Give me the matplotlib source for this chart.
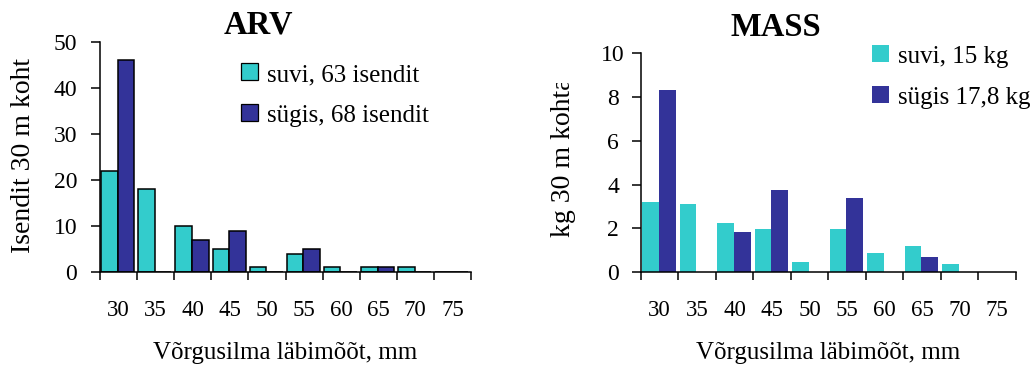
import numpy as np
import matplotlib
matplotlib.use("Agg")
import matplotlib.pyplot as plt
from matplotlib.patches import Rectangle

# Mesh size classes (mm)
mesh_sizes = ["30", "35", "40", "45", "50", "55", "60", "65", "70", "75"]

# Catch in numbers per 30 m of net
count_summer = [22, 18, 10, 5, 1, 4, 1, 1, 1, 0]
count_autumn = [46, 0, 7, 9, 0, 5, 0, 1, 0, 0]

# Catch in kg per 30 m of net
mass_summer = [3.2, 3.1, 2.25, 1.95, 0.45, 1.95, 0.85, 1.2, 0.35, 0]
mass_autumn = [8.3, 0, 1.85, 3.75, 0, 3.4, 0, 0.7, 0, 0]

count_labels = ["suvi, 63 isendit", "sügis, 68 isendit"]
mass_labels = ["suvi, 15 kg", "sügis 17,8 kg"]

CYAN = "#33CCCC"
NAVY = "#333399"
FONT = "Liberation Serif"

plt.rcParams["font.family"] = FONT

W, H = 1036, 367
fig = plt.figure(figsize=(W / 100, H / 100), dpi=100)


def fx(px):
    return px / W


def fy(py):
    return 1 - py / H


def setup_axes(ax, ymax, ystep, ytick_ha):
    x = np.arange(len(mesh_sizes))
    ax.set_xlim(-0.5, len(mesh_sizes) - 0.5)
    ax.set_ylim(0, ymax)
    for s in ("top", "right"):
        ax.spines[s].set_visible(False)
    for s in ("left", "bottom"):
        ax.spines[s].set_linewidth(1.1)
        ax.spines[s].set_color("black")
    # tick marks between categories, labels at the category centres
    ax.set_xticks(np.arange(-0.5, len(mesh_sizes)), labels=[""] * (len(mesh_sizes) + 1))
    ax.set_xticks(x, labels=mesh_sizes, minor=True)
    ax.tick_params(axis="x", which="major", direction="out", length=5.8, width=1.1)
    ax.tick_params(axis="x", which="minor", length=0, pad=20.5, labelsize=16.5)
    ax.set_yticks(np.arange(0, ymax + 0.01, ystep))
    ax.tick_params(axis="y", direction="out", length=6.5, width=1.1, labelsize=17,
                   pad=13.5 if ytick_ha == "center" else 10)
    for lab in ax.get_yticklabels():
        lab.set_horizontalalignment(ytick_ha)
    ax.set_xlabel("Võrgusilma läbimõõt, mm", fontsize=18, labelpad=15)


def draw_legend(x0, rows_y, labels, colors, edge):
    for yb, lab, col in zip(rows_y, labels, colors):
        fig.patches.append(Rectangle((fx(x0), fy(yb)), fx(17), 17 / H,
                                     transform=fig.transFigure, facecolor=col,
                                     edgecolor="black" if edge else "none",
                                     linewidth=0.9 if edge else 0))
        fig.text(fx(x0 + 26), fy(yb + 1), lab, fontsize=18, ha="left", va="baseline")


x = np.arange(len(mesh_sizes))
bw = 0.445

# ---- ARV (numbers) ----
ax1 = fig.add_axes([fx(100), fy(272), fx(371), (272 - 42) / H])
ax1.bar(x - bw / 2 - 0.02, count_summer, bw, color=CYAN, edgecolor="black", linewidth=1.1)
ax1.bar(x + bw / 2 - 0.02, count_autumn, bw, color=NAVY, edgecolor="black", linewidth=1.1)
setup_axes(ax1, 50, 10, "right")
fig.text(fx(258), fy(25), "ARV", fontsize=23.5, fontweight="bold", ha="center", va="center")
fig.text(fx(23), fy(253), "Isendit 30 m koht", fontsize=20, rotation=90,
         rotation_mode="anchor", ha="left", va="center")
draw_legend(241, [80, 121], count_labels, [CYAN, NAVY], True)

# ---- MASS (kg) ----
ax2 = fig.add_axes([fx(641), fy(272), fx(374.7), (272 - 53.3) / H])
ax2.bar(x - bw / 2 - 0.02, mass_summer, bw, color=CYAN, edgecolor="none")
ax2.bar(x + bw / 2 - 0.02, mass_autumn, bw, color=NAVY, edgecolor="none")
setup_axes(ax2, 10, 2, "center")
fig.text(fx(775.5), fy(27), "MASS", fontsize=23.5, fontweight="bold", ha="center", va="center")
ylab2 = fig.text(fx(563), fy(237), "kg 30 m kohta", fontsize=20, rotation=90,
                 rotation_mode="anchor", ha="left", va="center")
clip = Rectangle((0, 0), 1, fy(83), transform=fig.transFigure, visible=False)
fig.patches.append(clip)
ylab2.set_clip_path(clip)
draw_legend(872, [62, 103], mass_labels, [CYAN, NAVY], False)

fig.savefig("out.png", dpi=100)
